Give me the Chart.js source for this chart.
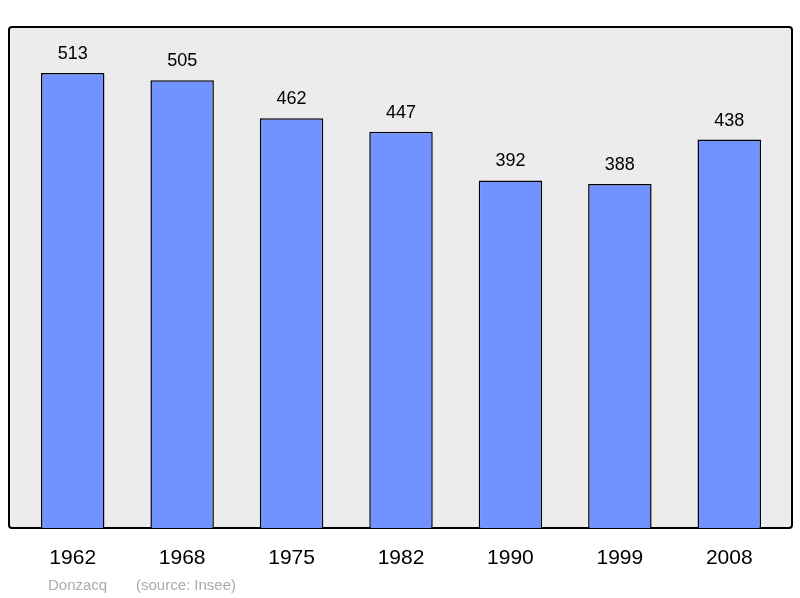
<!DOCTYPE html>
<html>
<head>
<meta charset="utf-8">
<script src="https://cdn.jsdelivr.net/npm/chart.js@4/dist/chart.umd.min.js"></script>
<style>
  html, body { margin: 0; padding: 0; background: #fff; }
  #wrap { width: 800px; height: 598px; }
</style>
</head>
<body>
<div id="wrap"><canvas id="c" width="800" height="598"></canvas></div>
<script>
const years = ["1962", "1968", "1975", "1982", "1990", "1999", "2008"];
const population = [513, 505, 462, 447, 392, 388, 438];
const commune = "Donzacq";
const source = "(source: Insee)";

// grey frame behind the bars, labels drawn on top
const framePlugin = {
    id: 'frame',
    beforeDatasetsDraw(chart) {
        const ctx = chart.ctx;
        ctx.save();
        ctx.fillStyle = '#ececec';
        ctx.strokeStyle = '#000';
        ctx.lineWidth = 2;
        ctx.beginPath();
        ctx.roundRect(9, 27, 783, 501, 3);
        ctx.fill();
        ctx.stroke();
        ctx.restore();
    },
    afterDatasetsDraw(chart) {
        const ctx = chart.ctx;
        const x = chart.scales.x, y = chart.scales.y;
        ctx.save();
        ctx.fillStyle = '#000';
        ctx.textAlign = 'center';
        ctx.font = '18px "Liberation Sans", Arial, sans-serif';
        population.forEach((v, i) => {
            ctx.fillText(String(v), x.getPixelForValue(i), y.getPixelForValue(v) - 14);
        });
        ctx.font = '21px "Liberation Sans", Arial, sans-serif';
        years.forEach((yr, i) => {
            ctx.fillText(yr, x.getPixelForValue(i), 564);
        });
        ctx.textAlign = 'left';
        ctx.fillStyle = '#aaaaaa';
        ctx.font = '15px "Liberation Sans", Arial, sans-serif';
        ctx.fillText(commune, 48, 590);
        ctx.fillText(source, 136, 590);
        ctx.restore();
    }
};

new Chart(document.getElementById('c'), {
    type: 'bar',
    data: {
        labels: years,
        datasets: [{
            data: population,
            backgroundColor: '#7093ff',
            borderColor: '#000',
            borderWidth: 1.5,
            barPercentage: 0.58,
            categoryPercentage: 1
        }]
    },
    options: {
        responsive: false,
        animation: false,
        layout: { padding: { left: 18, right: 16, top: 27, bottom: 70 } },
        plugins: { legend: { display: false }, tooltip: { enabled: false } },
        scales: {
            x: { display: false },
            y: { display: false, min: 0, max: 565 }
        }
    },
    plugins: [framePlugin]
});
</script>
</body>
</html>
